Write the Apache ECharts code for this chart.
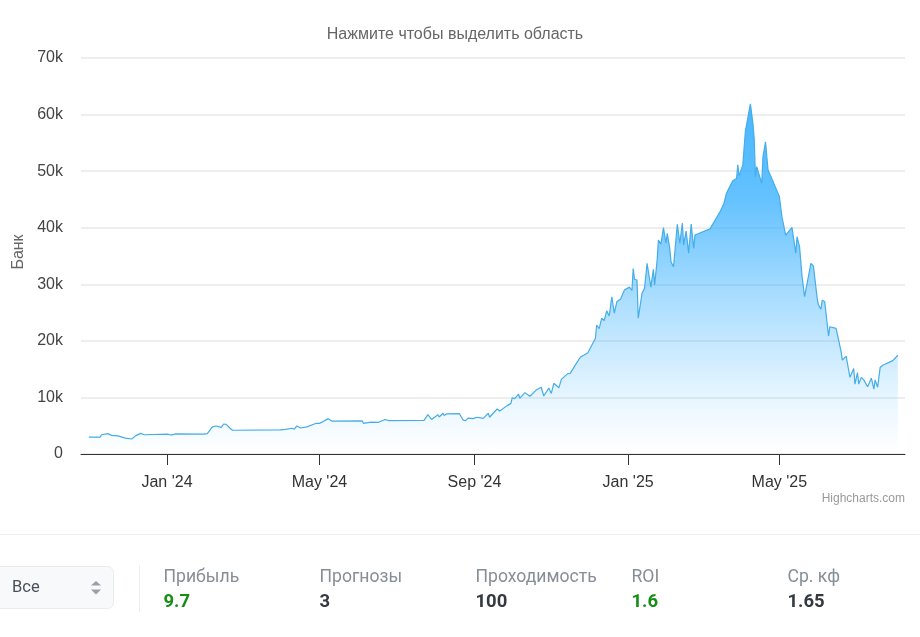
<!DOCTYPE html>
<html>
<head>
<meta charset="utf-8">
<style>html,body{margin:0;padding:0;background:#fff}#c{width:920px;height:637px}</style>
<script src="https://cdn.jsdelivr.net/npm/echarts@6/dist/echarts.min.js"></script>
</head>
<body>
<div id="c"></div>
<script>
const dayNumbers = [-62,-53,-52,-47,-44,-39,-33,-28,-25,-21,-18,1,3,7,29,32,36,39,43,45,47,50,52,90,91,94,99,101,103,106,111,118,121,128,131,155,156,162,168,173,176,204,207,210,215,216,219,220,222,232,235,237,239,243,246,251,255,256,262,264,270,271,273,274,276,279,280,284,288,293,297,299,303,305,307,311,313,318,320,324,328,334,340,341,343,345,347,349,351,353,355,357,360,361,363,367,369,370,371,373,374,375,377,379,381,384,386,387,389,390,392,394,396,397,399,400,402,405,407,409,410,412,414,416,417,418,419,431,432,439,442,444,449,452,453,454,457,459,463,465,466,467,468,472,473,475,476,477,481,486,488,491,496,499,500,502,504,506,508,511,513,516,517,519,520,522,525,526,531,535,536,539,542,545,546,548,549,551,553,556,559,561,562,564,566,568,576,580];
const bankK = [3.0,3.0,3.4,3.6,3.3,3.2,2.8,2.65,3.2,3.65,3.4,3.5,3.35,3.55,3.5,3.6,4.8,4.95,4.7,5.3,5.25,4.55,4.2,4.25,4.0,4.35,4.55,4.4,4.95,4.6,4.8,5.4,5.4,6.25,5.8,5.85,5.4,5.65,5.6,6.1,5.9,5.95,6.95,6.1,6.95,6.55,7.2,6.8,7.1,7.15,6.0,5.9,6.35,6.25,6.5,6.3,7.2,6.5,7.95,7.6,8.55,8.4,8.95,9.95,9.8,10.6,9.85,10.85,10.2,11.3,11.8,10.25,11.65,10.7,12.5,11.7,13.2,14.2,14.25,15.7,17.1,17.9,20.45,22.8,22.15,24.0,23.6,25.3,24.4,27.8,24.9,26.9,27.4,27.05,29.0,29.5,28.9,32.8,30.9,30.75,24.0,25.45,28.4,29.3,33.7,29.5,32.65,29.9,34.3,37.8,37.1,40.0,37.25,39.0,36.35,34.0,33.1,40.6,37.25,40.8,36.95,39.4,35.5,40.65,40.6,36.35,38.7,39.8,40.2,42.85,44.3,46.1,48.3,48.7,51.1,49.15,51.1,57.0,61.9,58.45,55.8,49.0,50.8,47.85,52.55,55.2,55.5,50.2,48.15,45.5,41.95,38.7,40.05,35.5,38.4,36.65,31.35,27.8,30.15,33.7,33.25,27.5,26.35,25.6,27.2,26.9,20.85,22.5,22.2,18.1,16.6,17.3,13.55,15.1,12.35,14.4,12.35,13.55,13.1,11.9,13.4,11.45,13.1,11.8,15.3,15.7,16.5,17.45];
const tickDates = ['2024-01-01','2024-05-01','2024-09-01','2025-01-01','2025-05-01'];
const tickLabels = ["Jan '24","May '24","Sep '24","Jan '25","May '25"];
const yTickLabels = ['0','10k','20k','30k','40k','50k','60k','70k'];
const statLabels = ['Прибыль','Прогнозы','Проходимость','ROI','Ср. кф'];
const statValues = ['9.7','3','100','1.6','1.65'];
const statGreen = [true,false,false,true,false];

const DAY = 86400000, BASE = Date.UTC(2024,0,1);
const seriesData = dayNumbers.map((d,i)=>[BASE+d*DAY, bankK[i]*1000]);
const tickTimes = tickDates.map(s=>Date.parse(s+'T00:00:00Z'));
const labelFont = 'Arial, "Liberation Sans", sans-serif';
const uiFont = 'Roboto, sans-serif';

const graphics = [
  {type:'rect',shape:{x:0,y:534,width:920,height:1},style:{fill:'#f0f1f3'},silent:true},
  {type:'rect',shape:{x:-8,y:566.5,width:121.5,height:42,r:6},style:{fill:'#f8f9fa',stroke:'#e9ecef',lineWidth:1},silent:true},
  {type:'text',style:{x:12,y:588,text:'Все',font:'16.5px '+uiFont,fill:'#495057',verticalAlign:'middle'},silent:true},
  {type:'polygon',shape:{points:[[91,585.5],[101,585.5],[96,581]]},style:{fill:'#999fa5'},silent:true},
  {type:'polygon',shape:{points:[[91,589.5],[101,589.5],[96,594.5]]},style:{fill:'#999fa5'},silent:true},
  {type:'rect',shape:{x:139,y:565,width:1,height:47},style:{fill:'#eceef0'},silent:true},
  {type:'text',x:19,y:252,rotation:Math.PI/2,style:{x:0,y:0,text:'Банк',font:'16px '+labelFont,fill:'#666666',align:'center',verticalAlign:'middle'},silent:true}
];
const statX = [163.5,319.5,475.5,631.5,787.5];
statLabels.forEach((t,i)=>{
  graphics.push({type:'text',style:{x:statX[i],y:578,text:t,font:'17.6px '+uiFont,fill:'#868e96',verticalAlign:'middle'},silent:true});
  graphics.push({type:'text',style:{x:statX[i],y:602,text:statValues[i],font:'bold 18.5px '+uiFont,fill:statGreen[i]?'#178f17':'#343a40',verticalAlign:'middle'},silent:true});
});
graphics.push({type:'text',style:{x:905,y:499,text:'Highcharts.com',font:'12px '+labelFont,fill:'#999999',align:'right',verticalAlign:'middle'},silent:true});

const chart = echarts.init(document.getElementById('c'),null,{renderer:'canvas'});
chart.setOption({
  animation:false,
  backgroundColor:'#ffffff',
  title:{text:'Нажмите чтобы выделить область',left:450,top:22,textAlign:'center',
    textStyle:{fontFamily:labelFont,fontSize:16,fontWeight:'normal',color:'#666666'}},
  grid:{left:81,right:15,top:58,bottom:183,containLabel:false},
  xAxis:{type:'value',min:BASE-68.25*DAY,max:BASE+585.7*DAY,
    axisLine:{show:true,onZero:false,lineStyle:{color:'#333333',width:1}},
    axisTick:{show:true,length:11,lineStyle:{color:'#333333',width:1},customValues:tickTimes},
    splitLine:{show:false},minorTick:{show:false},
    axisLabel:{margin:21,fontFamily:labelFont,fontSize:16,color:'#333333',hideOverlap:false,
      customValues:tickTimes,
      formatter:v=>tickLabels[tickTimes.indexOf(+v)]||''}},
  yAxis:{type:'value',min:0,max:70000,interval:10000,
    axisLine:{show:false},axisTick:{show:false},
    splitLine:{show:true,lineStyle:{color:'#e9e9e9',width:1.5}},
    axisLabel:{margin:18,fontFamily:labelFont,fontSize:16,color:'#444444',
      formatter:v=>yTickLabels[Math.round(v/10000)]}},
  series:[{type:'line',data:seriesData,showSymbol:false,smooth:false,
    lineStyle:{color:'#45ade8',width:1.2},
    areaStyle:{opacity:1,color:new echarts.graphic.LinearGradient(0,0,0,1,[
      {offset:0,color:'rgba(40,170,255,0.85)'},
      {offset:0.27,color:'rgba(40,170,255,0.72)'},
      {offset:0.55,color:'rgba(40,170,255,0.40)'},
      {offset:0.84,color:'rgba(40,170,255,0.11)'},
      {offset:0.98,color:'rgba(40,170,255,0.01)'},
      {offset:1,color:'rgba(40,170,255,0)'}])}}],
  graphic:graphics
});
</script>
</body>
</html>
